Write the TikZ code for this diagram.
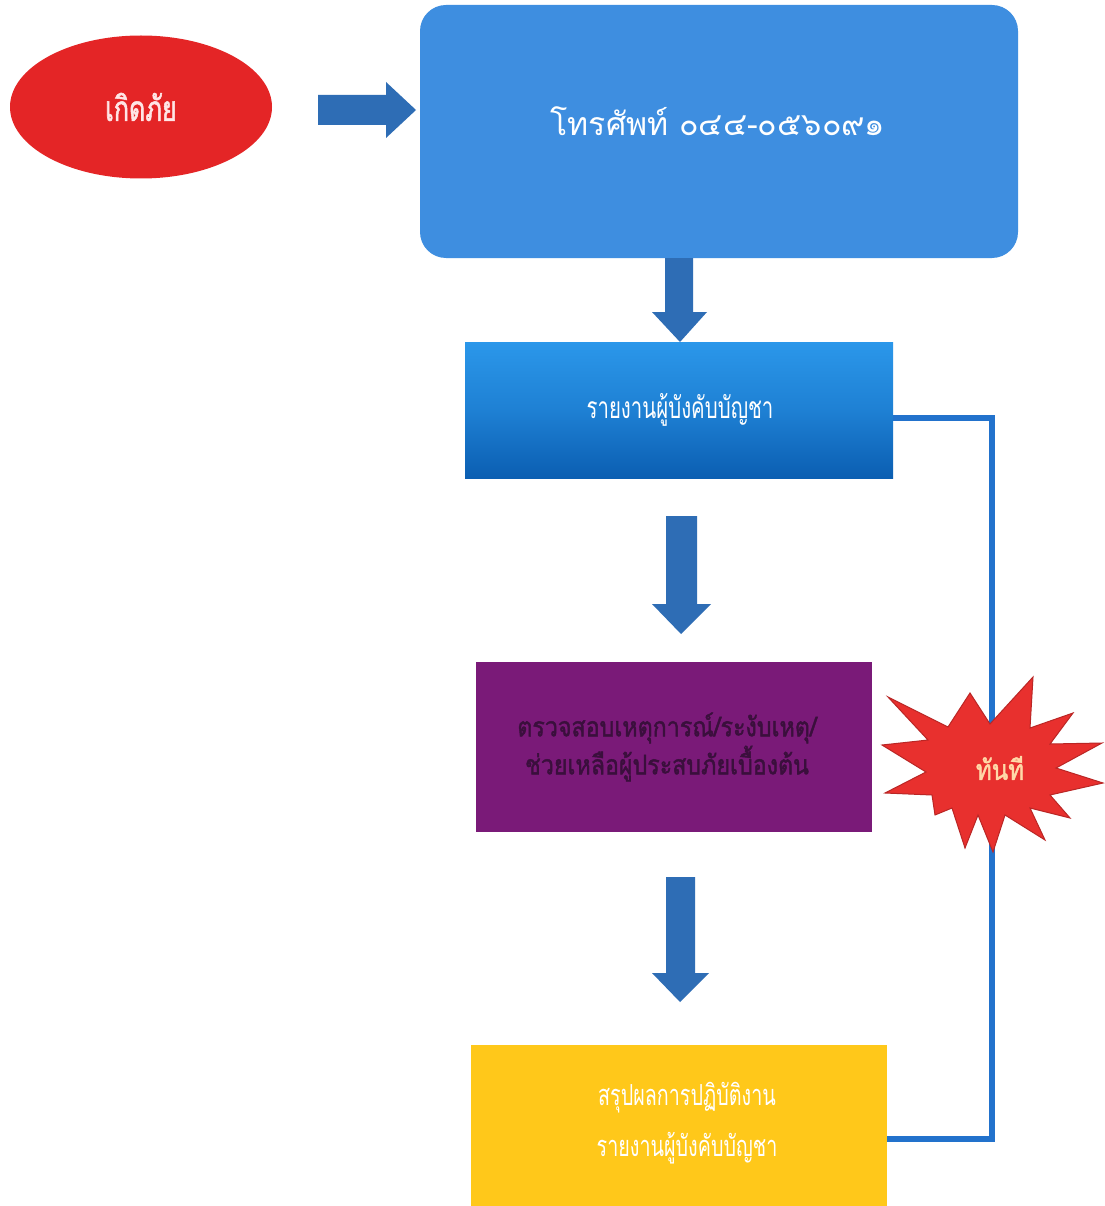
\documentclass[tikz,border=0pt]{standalone}
\usepackage{fontspec}
\newfontfamily\thai[Script=Thai]{Loma}
\newfontfamily\thaic[Script=Thai,FakeStretch=0.68]{Loma}
\newfontfamily\thaicb[Script=Thai,FakeStretch=0.72,FakeBold=1.5]{Loma}
\newfontfamily\thaimb[Script=Thai,FakeStretch=0.86,FakeBold=1.5]{Loma}
\usetikzlibrary{shapes.geometric,calc}
\definecolor{ered}{HTML}{E42526}
\definecolor{arrblue}{HTML}{2E6DB5}
\definecolor{bigblue}{HTML}{3E8EE0}
\definecolor{b2top}{HTML}{2B97EA}
\definecolor{b2bot}{HTML}{0B5EB2}
\definecolor{purp}{HTML}{7A1A78}
\definecolor{yel}{HTML}{FFC81A}
\definecolor{linkblue}{HTML}{2272CC}
\definecolor{starred}{HTML}{E8302E}
\definecolor{darktxt}{HTML}{3A0F3C}
\definecolor{startxt}{HTML}{FFD9A8}
\definecolor{pinktxt}{HTML}{FFE6E6}
\begin{document}
\begin{tikzpicture}[x=1pt,y=-1pt,
  box/.style={rectangle,inner sep=0pt},
  label/.style={inner sep=0pt,align=center},
  blockarrow/.style={fill=arrblue,draw=none},
  link/.style={draw=linkblue,line width=6pt}]
\useasboundingbox (0,0) rectangle (1104,1206);
\fill[white] (0,0) rectangle (1104,1206);

% start ellipse
\node[ellipse,fill=ered,minimum width=262pt,minimum height=143pt,inner sep=0pt,
  font={\thaicb\fontsize{35}{40}\selectfont},text=pinktxt] (start) at (141,107) {เกิดภัย};

% phone box
\node[box,fill=bigblue,rounded corners=26pt,minimum width=598pt,minimum height=253pt] (phone) at (719,131.5) {};
\node[label,font={\thai\fontsize{32}{36}\selectfont},text=white] (phonetxt) at (718,121) {โทรศัพท์ ๐๔๔-๐๕๖๐๙๑};

% report box
\node[box,top color=b2top,bottom color=b2bot,middle color=b2top!60!b2bot,minimum width=428pt,minimum height=136pt] (report) at (679,410) {};
\node[label,font={\thaic\fontsize{30}{34}\selectfont},text=white] (reporttxt) at (680,410) {รายงานผู้บังคับบัญชา};

% check box
\node[box,fill=purp,minimum width=396pt,minimum height=170pt] (check) at (674,747) {};
\node[label,font={\thaimb\fontsize{27}{38}\selectfont},text=darktxt] (checktxt) at (667,747)
  {ตรวจสอบเหตุการณ์/ระงับเหตุ/\\ช่วยเหลือผู้ประสบภัยเบื้องต้น};

% summary box
\node[box,fill=yel,minimum width=416pt,minimum height=161pt] (summary) at (679,1125.5) {};
\node[label,font={\thaic\fontsize{29}{51}\selectfont},text=white] (summarytxt) at (687,1123)
  {สรุปผลการปฏิบัติงาน\\รายงานผู้บังคับบัญชา};

% block arrows
\fill[blockarrow] (318,95) -- (386,95) -- (386,82) -- (416,110) -- (386,138) -- (386,125) -- (318,125) -- cycle;
\fill[blockarrow] (665,258) -- (693,258) -- (693,312) -- (707,312) -- (680,342) -- (652,312) -- (665,312) -- cycle;
\fill[blockarrow] (666,516) -- (697,516) -- (697,604) -- (711,604) -- (681,634) -- (652,604) -- (666,604) -- cycle;
\fill[blockarrow] (666,877) -- (695,877) -- (695,973) -- (709,973) -- (680,1002) -- (652,973) -- (666,973) -- cycle;

% feedback line
\coordinate (c1) at (992,418);
\coordinate (c2) at (992,1139);
\draw[link] (report.east |- c1) -- (c1) -- (c2) -- (summary.east |- c2);

% starburst
\filldraw[fill=starred,draw=starred!80!black,line width=1pt,line join=miter]
 (888,697) -- (948,727) -- (970,693) -- (990,724) -- (1033,677) -- (1030,728)
 -- (1073,713) -- (1050,744) -- (1102,743) -- (1056,768) -- (1103,783) -- (1050,795)
 -- (1070,818) -- (1030,808) -- (1045,840) -- (1005,815) -- (993,852) -- (978,815)
 -- (965,848) -- (952,808) -- (935,815) -- (932,795) -- (885,793) -- (926,772)
 -- (882,745) -- (928,740) -- cycle;
\node[label,font={\thaimb\fontsize{28}{32}\selectfont},text=startxt] (now) at (1000,768) {ทันที};
\end{tikzpicture}
\end{document}
